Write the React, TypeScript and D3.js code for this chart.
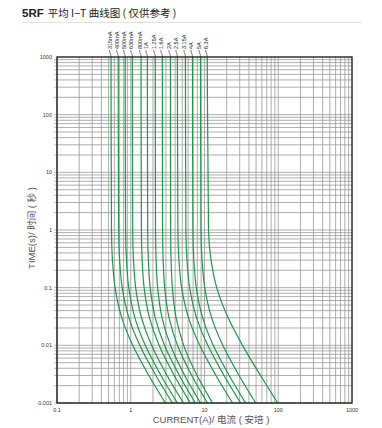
import React from "react";
import * as d3 from "d3";

const ratings = ["315mA", "400mA", "500mA", "630mA", "800mA", "1A", "1.25A", "1.6A", "2A", "2.5A", "3.15A", "4A", "5A", "6.3A"];
const times = [1000, 1, 0.3, 0.1, 0.03, 0.01, 0.003, 0.001];
const currents = [
  [0.54, 0.548, 0.565, 0.613, 0.756, 1.064, 1.76, 2.95],
  [0.676, 0.686, 0.707, 0.766, 0.944, 1.326, 2.19, 3.67],
  [0.84, 0.851, 0.875, 0.94, 1.138, 1.574, 2.57, 4.29],
  [1.05, 1.062, 1.09, 1.166, 1.4, 1.916, 3.11, 5.18],
  [1.38, 1.394, 1.427, 1.517, 1.796, 2.424, 3.89, 6.45],
  [1.68, 1.696, 1.733, 1.834, 2.15, 2.867, 4.56, 7.54],
  [2.15, 2.167, 2.206, 2.314, 2.659, 3.459, 5.39, 8.83],
  [2.68, 2.701, 2.75, 2.884, 3.311, 4.3, 6.71, 10.98],
  [3.45, 3.472, 3.523, 3.665, 4.124, 5.217, 7.94, 12.85],
  [4.29, 4.354, 4.501, 4.897, 6.08, 8.61, 14.29, 24.0],
  [5.51, 5.593, 5.783, 6.293, 7.82, 11.08, 18.4, 30.9],
  [6.87, 6.961, 7.169, 7.73, 9.438, 13.15, 21.58, 36.1],
  [8.83, 8.963, 9.265, 10.08, 12.52, 17.73, 29.42, 49.4],
  [10.9, 11.33, 12.28, 14.64, 20.92, 32.79, 57.5, 98.4],
];
const xTicks = [0.1, 1, 10, 100, 1000];
const xTickLabels = ["0.1", "1", "10", "100", "1000"];
const yTicks = [1000, 100, 10, 1, 0.1, 0.01, 0.001];
const yTickLabels = ["1000", "100", "10", "1", "0.1", "0.01", "0.001"];

const FONT = "'Liberation Sans', Arial, 'Noto Sans CJK SC', sans-serif";

export default function App() {
  const W = 382, H = 428;
  const L = 57, R = 352, T = 57, B = 403;
  const x = d3.scaleLog().domain([0.1, 1000]).range([L, R]);
  const y = d3.scaleLog().domain([0.001, 1000]).range([B, T]);

  const minorX: number[] = [];
  for (let k = -1; k <= 2; k++) for (let i = 1; i <= 9; i++) minorX.push(i * Math.pow(10, k));
  const minorY: number[] = [];
  for (let k = -3; k <= 2; k++) for (let i = 1; i <= 9; i++) minorY.push(i * Math.pow(10, k));

  const line = d3
    .line<[number, number]>()
    .x((d) => x(d[0]))
    .y((d) => y(d[1]))
    .curve(d3.curveMonotoneY);

  const green = "#1a9a48";

  return (
    <svg width={W} height={H} style={{ position: "absolute", left: 0, top: 0, background: "#fff" }} fontFamily={FONT}>
      <rect width={W} height={H} fill="#fff" />
      {/* title */}
      <text x={22} y={17} fontSize={11.5} fill="#222">
        <tspan fontWeight="bold">5RF</tspan>
        <tspan dx={4} fontFamily="'Noto Sans CJK SC', sans-serif" fontSize={10.5}>平均 I−T 曲线图 ( 仅供参考 )</tspan>
      </text>
      <line x1={22} x2={362} y1={22.5} y2={22.5} stroke="#e2e2e2" strokeWidth={1} />

      {/* grid */}
      {minorX.map((v, i) => (
        <line key={"gx" + i} x1={x(v)} x2={x(v)} y1={T} y2={B} stroke="#999" strokeWidth={0.8} />
      ))}
      {minorY.map((v, i) => (
        <line key={"gy" + i} x1={L} x2={R} y1={y(v)} y2={y(v)} stroke="#999" strokeWidth={0.8} />
      ))}
      {minorY.map((v, i) => (
        <line key={"ty" + i} x1={L - 3} x2={L} y1={y(v)} y2={y(v)} stroke="#999" strokeWidth={0.6} />
      ))}

      {/* curves */}
      {currents.map((cs, i) => (
        <path
          key={"c" + i}
          d={line(cs.map((c, j) => [c, times[j]] as [number, number])) || ""}
          fill="none"
          stroke={green}
          strokeWidth={1.2}
        />
      ))}

      {/* frame */}
      <rect x={L} y={T} width={R - L} height={B - T} fill="none" stroke="#222" strokeWidth={1.4} />

      {/* labels */}
      {currents.map((cs, i) => {
        const lx = x(cs[0]);
        const tx = lx - 1.5;
        return (
          <g key={"l" + i}>
            <path d={`M${tx},${50} C${tx},${54} ${lx},${53} ${lx},${T}`} fill="none" stroke="#222" strokeWidth={0.6} />
            <text transform={`translate(${tx + 2},${49}) rotate(-90)`} fontSize={5.5} fill="#222">
              {ratings[i]}
            </text>
          </g>
        );
      })}

      {/* y tick labels */}
      {yTicks.map((v, i) => (
        <text key={"yl" + i} x={L - 5} y={y(v) + 2} fontSize={5.5} textAnchor="end" fill="#333">
          {yTickLabels[i]}
        </text>
      ))}
      {xTicks.map((v, i) => (
        <text key={"xl" + i} x={x(v)} y={412} fontSize={5.5} textAnchor="middle" fill="#333">
          {xTickLabels[i]}
        </text>
      ))}

      <text x={211} y={423} fontSize={9.5} textAnchor="middle" fill="#555" fontFamily="'Liberation Sans', 'Noto Sans CJK SC', sans-serif">
        CURRENT(A)/ 电流 ( 安培 )
      </text>
      <text
        transform={`translate(35,228) rotate(-90)`}
        fontSize={9.5}
        textAnchor="middle"
        fill="#555"
        fontFamily="'Liberation Sans', 'Noto Sans CJK SC', sans-serif"
      >
        TIME(s)/ 时间 ( 秒 )
      </text>
    </svg>
  );
}
